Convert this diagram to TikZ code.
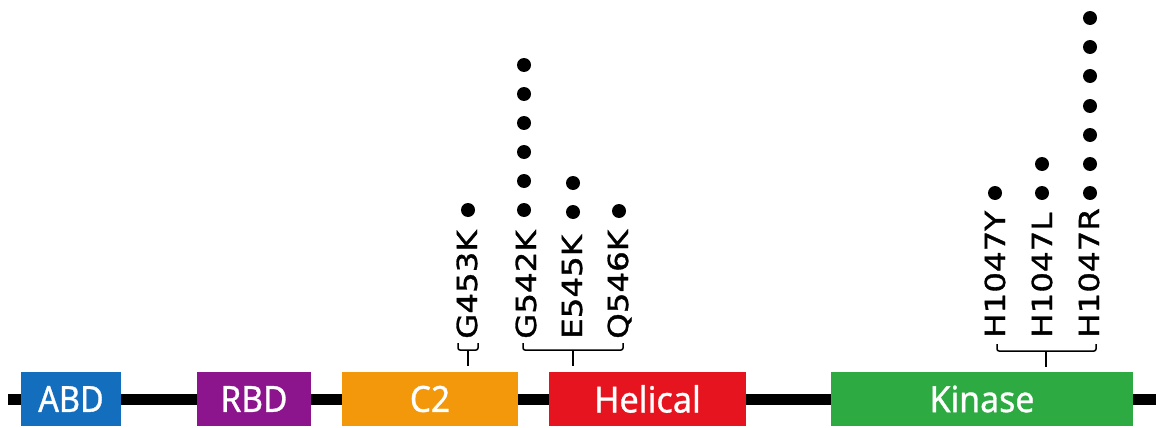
\documentclass[tikz,border=0pt]{standalone}
\usepackage{fontspec}
\setmainfont{Noto Sans}[FakeBold=0.9]
\newfontfamily\labfont{DejaVu Sans}[FakeBold=1.1]
\usepackage{graphicx}
\definecolor{abdcol}{RGB}{20,110,190}
\definecolor{rbdcol}{RGB}{140,20,140}
\definecolor{c2col}{RGB}{243,152,10}
\definecolor{helcol}{RGB}{230,20,30}
\definecolor{kincol}{RGB}{45,170,65}
\begin{document}
\begin{tikzpicture}[x=1pt,y=-1pt,
  dombox/.style={draw=none, minimum height=54pt, inner sep=0pt, text=white,
    font=\fontsize{36}{40}\selectfont},
  backbone/.style={line width=11pt, black},
  mutlab/.style={rotate=90, anchor=base west, inner sep=0pt,
    font=\labfont\fontsize{32.5}{36}\selectfont},
  mutdot/.style={circle, fill=black, inner sep=0pt, minimum size=14pt},
  brk/.style={line width=1.5pt, black, rounded corners=2pt}]
\useasboundingbox (0,0) rectangle (1156,428);

% domains
\node[dombox, fill=abdcol, minimum width=100pt] (abd) at (71,399) {\scalebox{0.9}[1]{ABD}};
\node[dombox, fill=rbdcol, minimum width=114pt] (rbd) at (254,399) {\scalebox{0.93}[1]{RBD}};
\node[dombox, fill=c2col, minimum width=176pt] (c2) at (430,399) {\scalebox{0.93}[1]{C2}};
\node[dombox, fill=helcol, minimum width=197pt] (hel) at (647.5,399) {\scalebox{0.95}[1]{Helical}};
\node[dombox, fill=kincol, minimum width=302pt] (kin) at (982,399) {\scalebox{0.94}[1]{Kinase}};

% backbone
\coordinate (bl) at (8,399);
\coordinate (br) at (1156,399);
\draw[backbone] (bl) -- (abd.west);
\draw[backbone] (abd.east) -- (rbd.west);
\draw[backbone] (rbd.east) -- (c2.west);
\draw[backbone] (c2.east) -- (hel.west);
\draw[backbone] (hel.east) -- (kin.west);
\draw[backbone] (kin.east) -- (br);

% mutation labels
\node[mutlab] (g453k) at (477,339) {\scalebox{1}[0.85]{G453K}};
\node[mutlab] (g542k) at (536,339) {\scalebox{1}[0.85]{G542K}};
\node[mutlab] (e545k) at (582,339) {\scalebox{1}[0.85]{E545K}};
\node[mutlab] (q546k) at (628,339) {\scalebox{1}[0.85]{Q546K}};
\node[mutlab] (h1047y) at (1005,338) {\scalebox{1}[0.85]{H1047Y}};
\node[mutlab] (h1047l) at (1052,338) {\scalebox{1}[0.85]{H1047L}};
\node[mutlab] (h1047r) at (1099,338) {\scalebox{1}[0.85]{H1047R}};

% brackets
\coordinate (c2s) at (468,366);
\draw[brk] (458,343) -- (458,350) -- (478,350) -- (478,343);
\draw[brk] (468,350) -- (c2s);
\coordinate (hels) at (573,366);
\draw[brk] (523,343) -- (523,350) -- (623,350) -- (623,343);
\draw[brk] (573,350) -- (hels);
\coordinate (kins) at (1046,367);
\draw[brk] (997,344) -- (997,351) -- (1096,351) -- (1096,344);
\draw[brk] (1046,351) -- (kins);

% dots
\node[mutdot] (d1) at (468,210) {};
\foreach \y [count=\i] in {210,181,152,123,94,65}
  \node[mutdot] (g542k-\i) at (524,\y) {};
\foreach \y [count=\i] in {212,183}
  \node[mutdot] (e545k-\i) at (573,\y) {};
\node[mutdot] (q546k-1) at (619,211) {};
\node[mutdot] (h1047y-1) at (995,193) {};
\foreach \y [count=\i] in {193,164}
  \node[mutdot] (h1047l-\i) at (1042,\y) {};
\foreach \y [count=\i] in {193,164,135,106,76,47,18}
  \node[mutdot] (h1047r-\i) at (1090,\y) {};
\end{tikzpicture}
\end{document}
